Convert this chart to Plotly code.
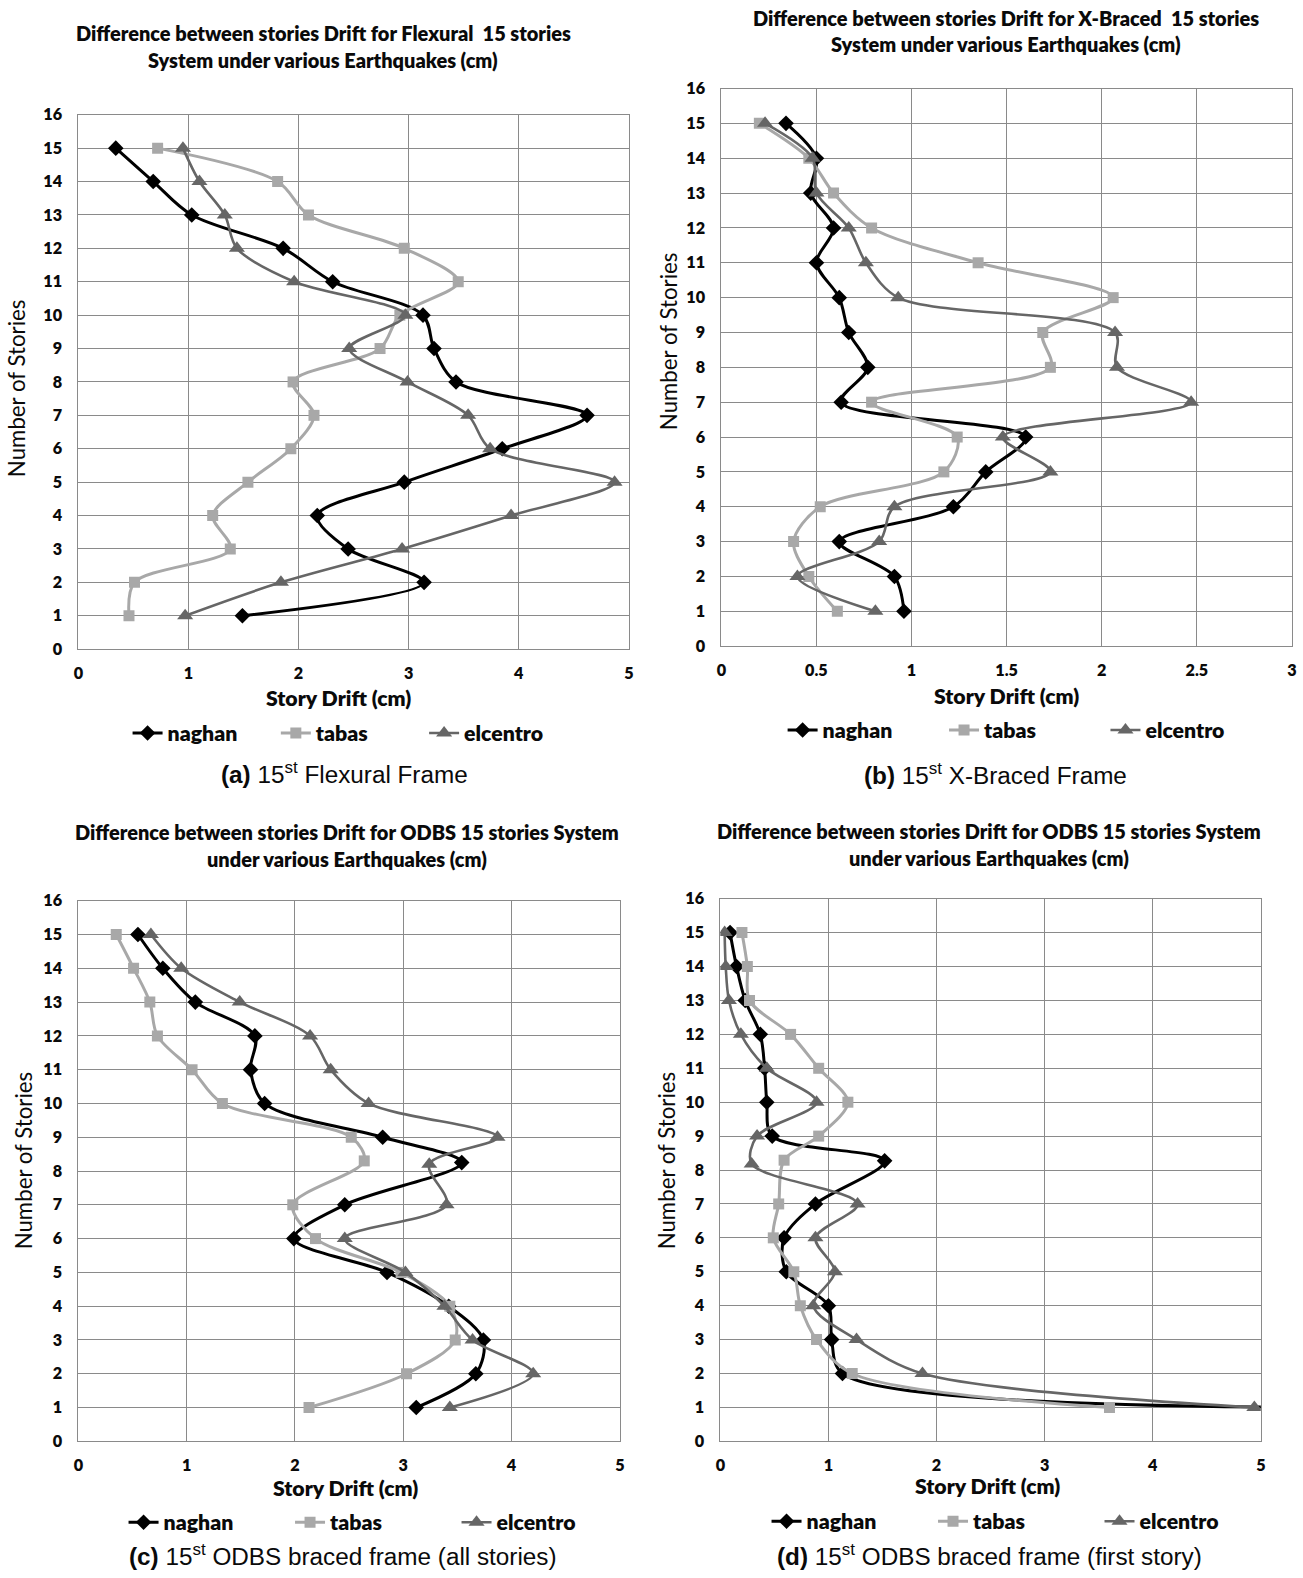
import plotly.graph_objects as go

stories = [15, 14, 13, 12, 11, 10, 9, 8, 7, 6, 5, 4, 3, 2, 1]

# (a) Flexural frame
a_naghan = [0.34, 0.68, 1.03, 1.86, 2.31, 3.13, 3.23, 3.43, 4.62, 3.85, 2.96, 2.17, 2.45, 3.14, 1.49]
a_tabas = [0.72, 1.81, 2.09, 2.96, 3.45, 2.92, 2.74, 1.95, 2.14, 1.93, 1.54, 1.22, 1.38, 0.51, 0.46]
a_elcentro = [0.95, 1.10, 1.33, 1.44, 1.96, 2.97, 2.46, 2.99, 3.54, 3.74, 4.87, 3.93, 2.94, 1.84, 0.97]

# (b) X-Braced frame
b_naghan = [0.34, 0.50, 0.47, 0.59, 0.50, 0.62, 0.67, 0.77, 0.63, 1.60, 1.39, 1.22, 0.62, 0.91, 0.96]
b_tabas = [0.20, 0.46, 0.59, 0.79, 1.35, 2.06, 1.69, 1.73, 0.79, 1.24, 1.17, 0.52, 0.38, 0.46, 0.61]
b_elcentro = [0.23, 0.48, 0.50, 0.67, 0.76, 0.93, 2.07, 2.08, 2.47, 1.48, 1.73, 0.91, 0.83, 0.40, 0.81]

# (c) ODBS braced frame (all stories)
c_naghan = [0.55, 0.78, 1.08, 1.63, 1.59, 1.72, 2.81, 3.54, 2.46, 1.99, 2.85, 3.42, 3.74, 3.67, 3.12]
c_naghan_st = [15, 14, 13, 12, 11, 10, 9, 8.25, 7, 6, 5, 4, 3, 2, 1]
c_tabas = [0.35, 0.51, 0.66, 0.73, 1.05, 1.33, 2.52, 2.64, 1.98, 2.19, 2.98, 3.43, 3.48, 3.03, 2.13]
c_tabas_st = [15, 14, 13, 12, 11, 10, 9, 8.3, 7, 6, 5, 4, 3, 2, 1]
c_elcentro = [0.67, 0.95, 1.49, 2.14, 2.33, 2.68, 3.87, 3.24, 3.40, 2.46, 3.02, 3.38, 3.64, 4.20, 3.43]
c_elcentro_st = [15, 14, 13, 12, 11, 10, 9, 8.2, 7, 6, 5, 4, 3, 2, 1]

# (d) ODBS braced frame (first story)
d_naghan = [0.09, 0.15, 0.23, 0.37, 0.41, 0.43, 0.48, 1.52, 0.88, 0.59, 0.61, 1.00, 1.03, 1.13, 5.30]
d_naghan_st = [15, 14, 13, 12, 11, 10, 9, 8.27, 7, 6, 5, 4, 3, 2, 1]
d_tabas = [0.20, 0.25, 0.27, 0.65, 0.91, 1.18, 0.91, 0.59, 0.54, 0.49, 0.68, 0.74, 0.89, 1.22, 3.60]
d_tabas_st = [15, 14, 13, 12, 11, 10, 9, 8.29, 7, 6, 5, 4, 3, 2, 1]
d_elcentro = [0.04, 0.05, 0.08, 0.19, 0.43, 0.89, 0.34, 0.29, 1.27, 0.88, 1.06, 0.86, 1.26, 1.87, 4.94]
d_elcentro_st = [15, 14, 13, 12, 11, 10, 9, 8.18, 7, 6, 5, 4, 3, 2, 1]

series_names = ["naghan", "tabas", "elcentro"]
x_ticks_a = [0, 1, 2, 3, 4, 5]
x_ticks_b = [0, 0.5, 1, 1.5, 2, 2.5, 3]

titles = [
    ["Difference between stories Drift for Flexural  15 stories", "System under various Earthquakes (cm)"],
    ["Difference between stories Drift for X-Braced  15 stories", "System under various Earthquakes (cm)"],
    ["Difference between stories Drift for ODBS 15 stories System", "under various Earthquakes (cm)"],
    ["Difference between stories Drift for ODBS 15 stories System", "under various Earthquakes (cm)"],
]
captions = [
    "<b>(a)</b> 15<sup>st</sup> Flexural Frame",
    "<b>(b)</b> 15<sup>st</sup> X-Braced Frame",
    "<b>(c)</b> 15<sup>st</sup> ODBS braced frame (all stories)",
    "<b>(d)</b> 15<sup>st</sup> ODBS braced frame (first story)",
]

# styles
COLORS = {"naghan": "#000000", "tabas": "#a8a8a8", "elcentro": "#666666"}
SYMBOLS = {"naghan": "diamond", "tabas": "square", "elcentro": "triangle-up"}
MSIZE = {"naghan": 12, "tabas": 11, "elcentro": 14}
LWIDTH = {"naghan": 3, "tabas": 3, "elcentro": 2.6}
GRID = "#8a8a8a"
CAL = "Lato"
TXT = "#0a0a0a"

# page geometry: window 1303x1578, body margin removed after drawing
W, H = 1303, 1578
OFF = 8
SHOT = 1287 / 1303  # observed scale of the photographed page


def page(t):
    # position on the page that lands at target pixel t in the photo
    return (t - OFF) / SHOT


def px_x(t):
    return page(t) / W


def px_y(t):
    return 1 - page(t) / H


FS = 1 / SHOT  # font compensation

# panel geometry (target pixels in the final picture)
panels = [
    dict(x0=81, x1=629, yt=112.7, yb=647, xr=[0, 5], xt=x_ticks_a, ew=102,
         title_x=325, title_y=[34, 61], xt_x=340, xt_y=699, leg_x=135, leg_y=733,
         cap_x=346, cap_y=774, yt_x=19, yt_y=386),
    dict(x0=721, x1=1289, yt=86.5, yb=644, xr=[0, 3], xt=x_ticks_b, ew=115,
         title_x=1004, title_y=[19, 45], xt_x=1005, xt_y=697, leg_x=787, leg_y=730,
         cap_x=994, cap_y=775, yt_x=668, yt_y=339),
    dict(x0=81, x1=620, yt=898.5, yb=1439, xr=[0, 5], xt=x_ticks_a, ew=120,
         title_x=348, title_y=[833, 860], xt_x=347, xt_y=1489, leg_x=131, leg_y=1522,
         cap_x=344, cap_y=1556, yt_x=26, yt_y=1158),
    dict(x0=720, x1=1258, yt=896.5, yb=1439, xr=[0, 5], xt=x_ticks_a, ew=120,
         title_x=987, title_y=[832, 859], xt_x=986, xt_y=1487, leg_x=771, leg_y=1521,
         cap_x=988, cap_y=1556, yt_x=666, yt_y=1158),
]
TEXT_DY = -3  # annotation text renders slightly low

data = [
    [(a_naghan, stories), (a_tabas, stories), (a_elcentro, stories)],
    [(b_naghan, stories), (b_tabas, stories), (b_elcentro, stories)],
    [(c_naghan, c_naghan_st), (c_tabas, c_tabas_st), (c_elcentro, c_elcentro_st)],
    [(d_naghan, d_naghan_st), (d_tabas, d_tabas_st), (d_elcentro, d_elcentro_st)],
]

fig = go.Figure()
annotations = []
layout = dict(width=W, height=H, autosize=False, margin=dict(l=0, r=0, t=0, b=0, pad=0),
              paper_bgcolor="white", plot_bgcolor="white", showlegend=True)

for i, (p, panel_data) in enumerate(zip(panels, data)):
    n = "" if i == 0 else str(i + 1)
    xa, ya = "x" + n, "y" + n
    leg = "legend" + n
    for name, (xs, ys) in zip(series_names, panel_data):
        fig.add_trace(go.Scatter(
            x=xs, y=ys, name=name, xaxis=xa, yaxis=ya, legend=leg,
            mode="lines+markers",
            line=dict(color=COLORS[name], width=LWIDTH[name], shape="spline", smoothing=0.9),
            marker=dict(symbol=SYMBOLS[name], size=MSIZE[name], color=COLORS[name]),
            cliponaxis=True,
        ))
    layout["xaxis" + n] = dict(
        domain=[px_x(p["x0"]), px_x(p["x1"])], anchor=ya, range=p["xr"],
        tickvals=p["xt"], showgrid=True, gridcolor=GRID, gridwidth=1,
        showline=True, linecolor=GRID, linewidth=1, mirror=True, zeroline=False,
        tickfont=dict(family=CAL, size=16 * FS, color=TXT, weight=800),
        ticks="", ticklabelstandoff=9, fixedrange=True,
    )
    layout["yaxis" + n] = dict(
        domain=[px_y(p["yb"]), px_y(p["yt"])], anchor=xa, range=[0, 16],
        tickvals=list(range(0, 17)), showgrid=True, gridcolor=GRID, gridwidth=1,
        showline=True, linecolor=GRID, linewidth=1, mirror=True, zeroline=False,
        tickfont=dict(family=CAL, size=16 * FS, color=TXT, weight=800),
        ticks="", ticklabelstandoff=12, fixedrange=True,
    )
    layout[leg] = dict(
        orientation="h", x=px_x(p["leg_x"] - 5), y=px_y(p["leg_y"] - 2),
        xanchor="left", yanchor="middle", xref="paper", yref="paper",
        font=dict(family=CAL, size=21 * FS, color=TXT, weight=800),
        entrywidth=p["ew"] * FS, entrywidthmode="pixels", bgcolor="rgba(0,0,0,0)",
        itemwidth=30, itemclick=False, itemdoubleclick=False,
    )
    for line, ty in zip(titles[i], p["title_y"]):
        annotations.append(dict(
            text=line, x=px_x(p["title_x"]), y=px_y(ty + TEXT_DY),
            xref="paper", yref="paper", xanchor="center", yanchor="middle",
            showarrow=False, font=dict(family=CAL, size=19.7 * FS, color=TXT, weight=800),
        ))
    annotations.append(dict(
        text="Story Drift (cm)", x=px_x(p["xt_x"]), y=px_y(p["xt_y"] + TEXT_DY),
        xref="paper", yref="paper", xanchor="center", yanchor="middle",
        showarrow=False, font=dict(family=CAL, size=21 * FS, color=TXT, weight=800),
    ))
    annotations.append(dict(
        text="Number of Stories", x=px_x(p["yt_x"]), y=px_y(p["yt_y"]),
        xref="paper", yref="paper", xanchor="center", yanchor="middle", textangle=-90,
        showarrow=False, font=dict(family=CAL, size=22 * FS, color=TXT),
    ))
    annotations.append(dict(
        text=captions[i], x=px_x(p["cap_x"]), y=px_y(p["cap_y"] + TEXT_DY),
        xref="paper", yref="paper", xanchor="center", yanchor="middle",
        showarrow=False, font=dict(family="Liberation Sans", size=24 * FS, color=TXT),
    ))

layout["annotations"] = annotations
fig.update_layout(**layout)

post = "document.documentElement.style.margin='0';document.body.style.margin='0';document.body.style.overflow='hidden';"
fig.write_html("out.html", config={"displayModeBar": False, "responsive": False}, post_script=post)
